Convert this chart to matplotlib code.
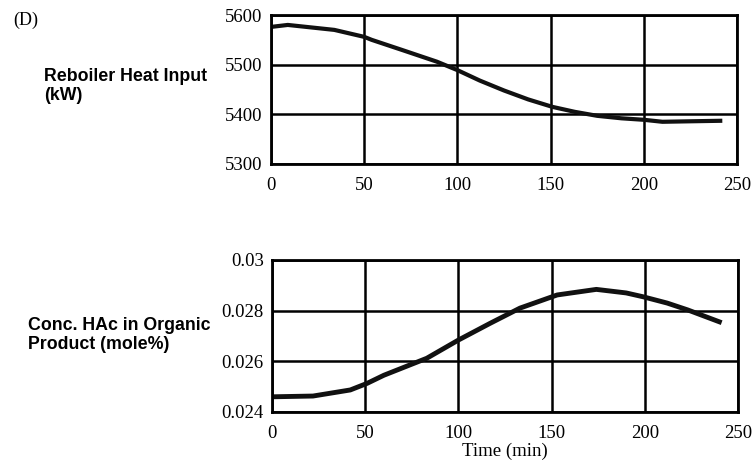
import numpy as np
import matplotlib.pyplot as plt
from matplotlib.ticker import FuncFormatter

# values
t_heat = [0, 9, 34, 50, 54, 70, 89, 100, 112, 125, 138, 151, 163, 175, 188, 200, 210, 225, 241]
heat = [5576, 5580, 5570, 5556, 5550, 5530, 5506, 5489, 5468, 5448, 5430, 5415, 5405, 5397, 5392, 5389, 5385, 5386, 5387]

t_conc = [0, 22, 42, 51, 60, 72, 83, 100, 117, 133, 153, 174, 190, 199, 212, 223, 240]
conc = [0.02460, 0.02463, 0.02487, 0.02513, 0.02545, 0.02580, 0.02612, 0.02684, 0.02750, 0.02810, 0.02862, 0.02884, 0.02870, 0.02855, 0.02830, 0.02803, 0.02756]

xticks = [0, 50, 100, 150, 200, 250]

serif = 'Liberation Serif'
sans = 'Liberation Sans'

fig = plt.figure(figsize=(7.53, 4.62), dpi=100)
ax1 = fig.add_axes([271/753, 1 - 164/462, 466/753, 149/462])
ax2 = fig.add_axes([272/753, 1 - 412/462, 466/753, 152/462])


def style(ax, yticks, fmt):
    ax.set_xlim(0, 250)
    ax.set_xticks(xticks)
    ax.set_yticks(yticks)
    ax.set_ylim(yticks[0], yticks[-1])
    ax.grid(True, color='black', linewidth=1.8)
    ax.tick_params(axis='x', length=0, pad=9, labelsize=13.5)
    ax.tick_params(axis='y', length=0, pad=6, labelsize=13.5)
    ax.yaxis.set_major_formatter(FuncFormatter(fmt))
    for s in ax.spines.values():
        s.set_linewidth(2)
    ax.set_axisbelow(True)


ax1.plot(t_heat, heat, color='#111111', linewidth=3)
style(ax1, [5300, 5400, 5500, 5600], lambda v, p: '%d' % v)

ax2.plot(t_conc, conc, color='#111111', linewidth=3.5)
style(ax2, [0.024, 0.026, 0.028, 0.03], lambda v, p: ('%.3f' % v).rstrip('0'))
for lab in ax1.get_xticklabels() + ax1.get_yticklabels() + ax2.get_xticklabels() + ax2.get_yticklabels():
    lab.set_fontfamily(serif)
ax2.set_xlabel('Time (min)', fontfamily=serif, fontsize=13.5, labelpad=1)

fig.text(13/753, 1 - 20/462, '(D)', fontfamily=serif, fontsize=13, va='center')
fig.text(44/753, 1 - 86/462, 'Reboiler Heat Input\n(kW)', fontfamily=sans,
         fontweight='bold', fontsize=12.8, va='center', linespacing=1.1)
fig.text(28/753, 1 - 335/462, 'Conc. HAc in Organic\nProduct (mole%)', fontfamily=sans,
         fontweight='bold', fontsize=12.8, va='center', linespacing=1.1)

fig.savefig('out.png', dpi=100)
